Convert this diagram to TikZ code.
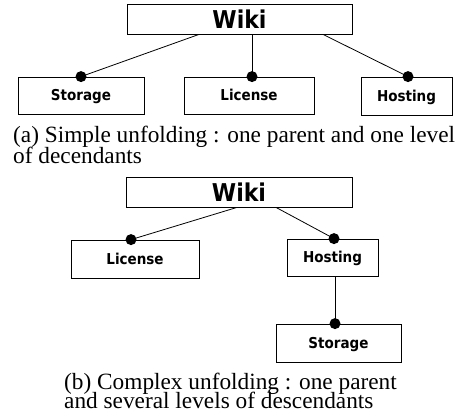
\documentclass[tikz,border=0pt]{standalone}
\usepackage{fontspec}
\setmainfont{Liberation Serif}
\newfontfamily\boxfont{DejaVu Sans Condensed}
\begin{document}
\begin{tikzpicture}[x=1pt,y=-1pt,
  box/.style={draw, line width=0.8pt, inner sep=0pt, text height=10pt, text depth=0pt,
    font=\boxfont\bfseries\fontsize{15}{15}\selectfont},
  wikibox/.style={box, text height=18pt, font=\boxfont\bfseries\fontsize{24.5}{24.5}\selectfont},
  conn/.style={line width=0.8pt},
  dotend/.style={circle, fill=black, inner sep=0pt, minimum size=11pt},
  captext/.style={inner sep=0pt, anchor=base west, font=\fontsize{23.3}{20}\selectfont}]
\useasboundingbox (0,0) rectangle (462,418);
% (a)
\node[wikibox, minimum width=225pt, minimum height=30pt] (wikiA) at (239.5,19) {Wiki};
\node[box, minimum width=126pt, minimum height=37pt] (storA) at (81,95.5) {Storage};
\node[box, minimum width=130pt, minimum height=37pt] (licA) at (249,95.5) {License};
\node[box, minimum width=91pt, minimum height=38pt] (hostA) at (406.5,96) {Hosting};
\node[dotend] (dA1) at (storA.north) {};
\node[dotend] (dA2) at ([xshift=3pt]licA.north) {};
\node[dotend] (dA3) at ([xshift=1.5pt]hostA.north) {};
\draw[conn] ([xshift=-40.5pt]wikiA.south) -- (dA1.center);
\draw[conn] ([xshift=12.5pt]wikiA.south) -- (dA2.center);
\draw[conn] ([xshift=83.5pt]wikiA.south) -- (dA3.center);
\node[captext] (capA1) at (13,142) {(a) Simple unfolding : one parent and one level};
\node[captext] (capA2) at (13,163) {of decendants};
% (b)
\node[wikibox, minimum width=226pt, minimum height=30pt] (wikiB) at (239,192) {Wiki};
\node[box, minimum width=128pt, minimum height=38pt] (licB) at (135,259) {License};
\node[box, minimum width=91pt, minimum height=37pt] (hostB) at (332.5,257.5) {Hosting};
\node[box, minimum width=125pt, minimum height=38pt] (storB) at (338.5,343) {Storage};
\node[dotend] (dB1) at ([xshift=-4pt]licB.north) {};
\node[dotend] (dB2) at ([xshift=1.5pt]hostB.north) {};
\node[dotend] (dB3) at ([xshift=-3.5pt]storB.north) {};
\draw[conn] ([xshift=-2pt]wikiB.south) -- (dB1.center);
\draw[conn] ([xshift=37pt]wikiB.south) -- (dB2.center);
\draw[conn] ([xshift=2.5pt]hostB.south) -- (dB3.center);
\node[captext] (capB1) at (64,389) {(b) Complex unfolding : one parent};
\node[captext] (capB2) at (64,408.5) {and several levels of descendants};
\end{tikzpicture}
\end{document}
